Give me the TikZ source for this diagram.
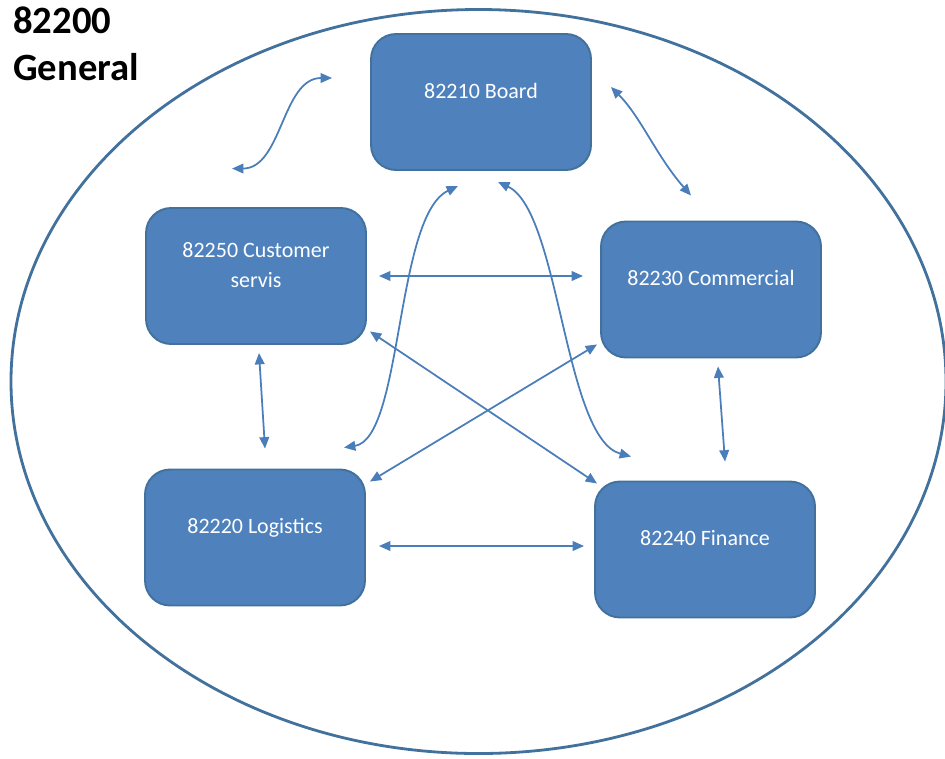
\documentclass[tikz,border=0pt]{standalone}
\usepackage{fontspec}
\setmainfont{Carlito}
\usepackage{tikz}
\usetikzlibrary{arrows.meta}
\definecolor{boxblue}{HTML}{4F81BD}
\definecolor{edgeblue}{HTML}{41719C}
\definecolor{arrowblue}{HTML}{4A7EBB}
\tikzset{link/.style={draw=arrowblue, line width=1pt, >={Triangle[length=6.5pt,width=5.5pt]}, <->}}

\begin{document}
\begin{tikzpicture}[x=0.02cm, y=-0.02cm]
	% Default look of the department boxes
	\tikzstyle{dept}=[draw=edgeblue, line width=1.1pt, fill=boxblue, rounded corners=0.5cm,
		minimum width=4.4cm, minimum height=2.72cm, text=white, align=center,
		font=\fontsize{12.5}{17}\selectfont, text depth=0.45cm];

	\useasboundingbox (0,0) rectangle (945,758);

	\draw[edgeblue, line width=1.6pt] (478.5,381.5) ellipse [x radius=467.5, y radius=372];
	\node[anchor=north west, inner sep=0pt, align=left, font=\fontsize{22}{27}\selectfont\bfseries] (title) at (13,6) {82200\\General};

	\node[dept] (board) at (481,102) {82210 Board};
	\node[dept] (custom) at (256,276) {82250 Customer\\servis};
	\node[dept] (commerc) at (711,289.5) {82230 Commercial};
	\node[dept] (logist) at (255,537.5) {82220 Logistics};
	\node[dept] (finance) at (705,549.5) {82240 Finance};

	\draw[link] ([shift={(-38,-24)}]board.west) .. controls +(-50,0) and +(50,0) .. ([shift={(-24,-38.5)}]custom.north);
	\draw[link] ([shift={(19,-15)}]board.east) .. controls +(30,30) and +(-35,-40) .. ([shift={(-20,-25)}]commerc.north);
	\draw[link] ([shift={(-23,15)}]board.south) .. controls +(-63,30) and +(59,-9) .. ([shift={(-22,-21)}]logist.north east);
	\draw[link] ([shift={(17,11)}]board.south) .. controls +(62,29) and +(-67,-18) .. ([shift={(37,-24)}]finance.north west);

	\draw[link] ([shift={(12,0)}]custom.east) -- ([shift={(-17,0)}]custom.east -| commerc.west);
	\draw[link] ([shift={(3,8)}]custom.south) -- ([shift={(10,-20)}]logist.north);
	\draw[link] ([shift={(7,8)}]commerc.south) -- ([shift={(20,-19)}]finance.north);
	\draw[link] ([shift={(13,8.5)}]logist.east) -- ([shift={(-10,-3.5)}]finance.west);

	\draw[link] ([shift={(3,-13.5)}]custom.south east) -- ([shift={(3,3)}]finance.north west);
	\draw[link] ([shift={(-3,-14)}]commerc.south west) -- ([shift={(4,13)}]logist.north east);

\end{tikzpicture}
\end{document}
